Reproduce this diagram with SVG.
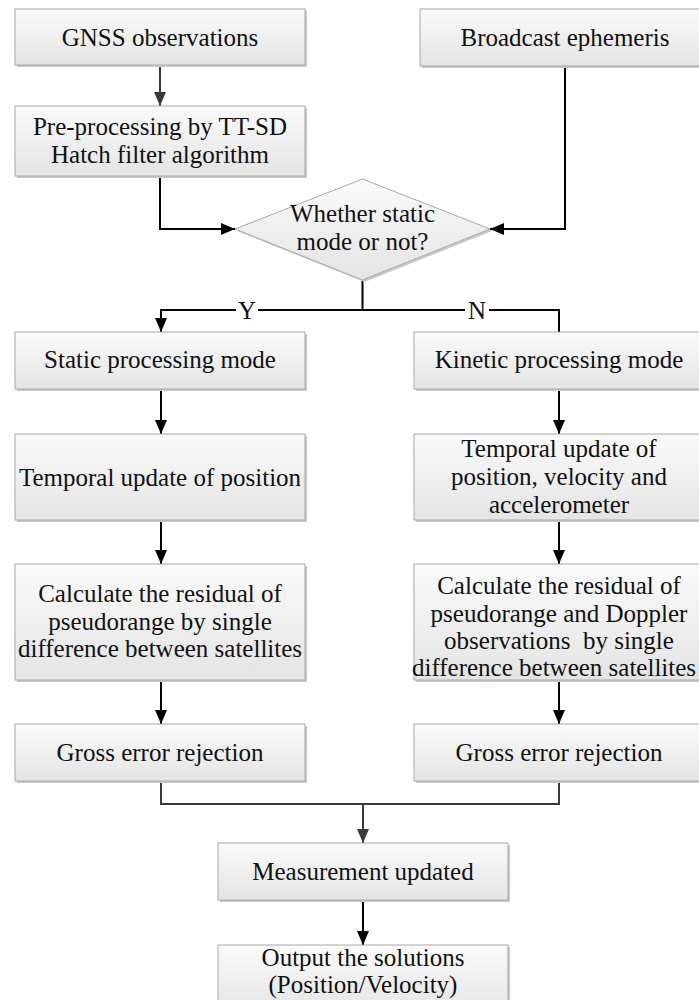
<svg xmlns="http://www.w3.org/2000/svg" width="699" height="1000" viewBox="0 0 699 1000">
<defs>
<linearGradient id="g" x1="0" y1="0" x2="0" y2="1">
<stop offset="0" stop-color="#fafafa"/>
<stop offset="1" stop-color="#e4e4e4"/>
</linearGradient>
<marker id="ah" markerUnits="userSpaceOnUse" markerWidth="14" markerHeight="12" refX="14" refY="6" orient="auto">
<path d="M0,0 L14,6 L0,12 z" fill="#000"/>
</marker>
<marker id="ahg" markerUnits="userSpaceOnUse" markerWidth="14" markerHeight="12" refX="14" refY="6" orient="auto">
<path d="M0,0 L14,6 L0,12 z" fill="#3a3a3a"/>
</marker>
</defs>
<style>
.box{fill:url(#g);stroke:#a8a8a8;stroke-width:1}
.sh{fill:#c8c8c8}
.t{font-family:"Liberation Serif","Times New Roman",serif;font-size:25px;fill:#111;text-anchor:middle}
.c{fill:none;stroke:#000;stroke-width:2}
.cg{fill:none;stroke:#3a3a3a;stroke-width:2}
</style>
<rect width="699" height="1000" fill="#fff"/>

<g id="connectors">
<path class="cg" d="M160,65 V106" marker-end="url(#ahg)"/>
<path class="c" d="M160,177 V229 H235" marker-end="url(#ah)"/>
<path class="c" d="M565,67 V229 H490" marker-end="url(#ah)"/>
<path class="c" d="M362.5,280 V310 H161 V332" marker-end="url(#ah)"/>
<path class="c" d="M362.5,310 H559 V332"/>
<path class="c" d="M161,390 V434" marker-end="url(#ah)"/>
<path class="c" d="M161,522 V564" marker-end="url(#ah)"/>
<path class="c" d="M161,682 V724" marker-end="url(#ah)"/>
<path class="c" d="M559,390 V434" marker-end="url(#ah)"/>
<path class="c" d="M559,521 V564" marker-end="url(#ah)"/>
<path class="c" d="M559,681 V724" marker-end="url(#ah)"/>
<path class="cg" d="M161,783 V804 H559 V783"/>
<path class="cg" d="M363,804 V843" marker-end="url(#ahg)"/>
<path class="c" d="M363,901 V945" marker-end="url(#ah)"/>
<rect x="236" y="298" width="22" height="24" fill="#fff"/>
<text class="t" x="247" y="319">Y</text>
<rect x="465" y="298" width="24" height="24" fill="#fff"/>
<text class="t" x="477" y="319">N</text>
</g>

<g id="gnss">
<rect class="sh" x="17" y="11" width="290" height="56"/>
<rect class="box" x="15" y="9" width="290" height="56"/>
<text class="t" x="160" y="46">GNSS observations</text>
</g>

<g id="broadcast">
<rect class="sh" x="422" y="11" width="290" height="57"/>
<rect class="box" x="420" y="9" width="290" height="57"/>
<text class="t" x="565" y="46">Broadcast ephemeris</text>
</g>

<g id="preprocessing">
<rect class="sh" x="17" y="108" width="290" height="70"/>
<rect class="box" x="15" y="106" width="290" height="70"/>
<text class="t" x="160" y="135">Pre-processing by TT-SD</text>
<text class="t" x="160" y="163">Hatch filter algorithm</text>
</g>

<g id="decision">
<path d="M364.5,181 L492,231 L364.5,282 L237,231 z" fill="#c8c8c8"/>
<path d="M362.5,179 L490,229 L362.5,280 L235,229 z" fill="url(#g)" stroke="#a8a8a8" stroke-width="1"/>
<text class="t" x="362.5" y="222">Whether static</text>
<text class="t" x="362.5" y="250">mode or not?</text>
</g>

<g id="static">
<rect class="sh" x="17" y="334" width="290" height="57"/>
<rect class="box" x="15" y="332" width="290" height="57"/>
<text class="t" x="160" y="368">Static processing mode</text>
</g>

<g id="kinetic">
<rect class="sh" x="416" y="334" width="290" height="57"/>
<rect class="box" x="414" y="332" width="290" height="57"/>
<text class="t" x="559" y="368">Kinetic processing mode</text>
</g>

<g id="temporal-static">
<rect class="sh" x="17" y="436" width="290" height="86"/>
<rect class="box" x="15" y="434" width="290" height="86"/>
<text class="t" x="160" y="486">Temporal update of position</text>
</g>

<g id="temporal-kinetic">
<rect class="sh" x="416" y="436" width="290" height="86"/>
<rect class="box" x="414" y="434" width="290" height="86"/>
<text class="t" x="559" y="457">Temporal update of</text>
<text class="t" x="559" y="485">position, velocity and</text>
<text class="t" x="559" y="513">accelerometer</text>
</g>

<g id="residual-static">
<rect class="sh" x="17" y="566" width="290" height="116"/>
<rect class="box" x="15" y="564" width="290" height="116"/>
<text class="t" x="160" y="602">Calculate the residual of</text>
<text class="t" x="160" y="629.5">pseudorange by single</text>
<text class="t" x="160" y="657">difference between satellites</text>
</g>

<g id="residual-kinetic">
<rect class="sh" x="416" y="566" width="290" height="116"/>
<rect class="box" x="414" y="564" width="290" height="116"/>
<text class="t" x="559" y="594">Calculate the residual of</text>
<text class="t" x="559" y="621.5">pseudorange and Doppler</text>
<text class="t" x="559" y="649" xml:space="preserve">observations  by single</text>
<text class="t" x="554" y="676">difference between satellites</text>
</g>

<g id="gross-static">
<rect class="sh" x="17" y="726" width="290" height="57"/>
<rect class="box" x="15" y="724" width="290" height="57"/>
<text class="t" x="160" y="761">Gross error rejection</text>
</g>

<g id="gross-kinetic">
<rect class="sh" x="416" y="726" width="290" height="57"/>
<rect class="box" x="414" y="724" width="290" height="57"/>
<text class="t" x="559" y="761">Gross error rejection</text>
</g>

<g id="measurement">
<rect class="sh" x="220" y="845" width="290" height="57"/>
<rect class="box" x="218" y="843" width="290" height="57"/>
<text class="t" x="363" y="880">Measurement updated</text>
</g>

<g id="output">
<rect class="sh" x="220" y="947" width="290" height="70"/>
<rect class="box" x="218" y="945" width="290" height="70"/>
<text class="t" x="363" y="966">Output the solutions</text>
<text class="t" x="363" y="993">(Position/Velocity)</text>
</g>
</svg>
